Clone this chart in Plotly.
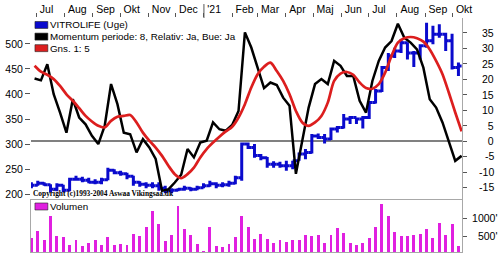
import pandas as pd
import plotly.graph_objects as go

# ---------------- data (weekly) ----------------
week_start = pd.date_range("2020-06-22", periods=68, freq="7D")

price_open = [215, 218, 222, 219, 210, 218, 208, 230, 230, 228,
              224, 224, 229, 248, 243, 241, 236, 224, 220, 218,
              217, 212, 207, 208, 210, 212, 210, 213, 217, 221,
              218, 219, 222, 233, 300, 293, 277, 273, 260, 260,
              257, 257, 267, 280, 283, 316, 313, 310, 330, 333,
              350, 353, 350, 353, 383, 406, 453, 476, 486, 502,
              482, 482, 496, 506, 519, 519, 506, 453]
price_high = [224, 227, 224, 220, 222, 219, 233, 237, 235, 233,
              230, 233, 253, 250, 247, 243, 237, 226, 224, 224,
              224, 217, 212, 212, 217, 214, 217, 222, 227, 224,
              224, 227, 237, 303, 303, 300, 280, 274, 266, 265,
              267, 267, 283, 290, 320, 321, 320, 333, 336, 360,
              356, 353, 356, 386, 410, 456, 482, 492, 509, 503,
              486, 499, 542, 536, 539, 522, 520, 463]
price_low = [212, 217, 217, 204, 206, 204, 206, 227, 224, 222,
             220, 220, 228, 240, 237, 230, 217, 215, 212, 212,
             207, 202, 202, 206, 207, 206, 208, 212, 215, 212,
             214, 215, 220, 227, 290, 273, 268, 253, 253, 253,
             247, 250, 267, 270, 281, 310, 301, 308, 323, 331,
             340, 340, 331, 350, 381, 404, 446, 472, 482, 469,
             454, 469, 492, 499, 512, 486, 449, 436]
price_close = [218, 222, 219, 210, 218, 208, 230, 230, 228, 224,
               224, 229, 248, 243, 241, 236, 224, 220, 218, 217,
               212, 207, 208, 210, 212, 210, 213, 217, 221, 218,
               219, 222, 233, 300, 293, 277, 273, 260, 260, 257,
               257, 267, 280, 283, 316, 313, 310, 330, 333, 350,
               353, 350, 353, 383, 406, 453, 476, 486, 502, 482,
               482, 496, 506, 519, 519, 506, 453, 456]

momentum = [20.3, 19.7, 24.9, 15.2, 9.3, 2.8, 13.6, 7.7, 5.5, 1.8,
            -0.9, 5.0, 18.5, 12.0, 2.8, 2.3, -3.6, 0.7, -2.0, -5.7,
            -16.0, -15.5, -13.3, -10.8, -2.5, -5.2, -0.4, 0.2, 6.1, 3.9,
            3.4, 5.3, 9.8, 35.2, 30.3, 23.8, 17.2, 19.0, 18.2, 14.1,
            11.5, -10.5, 0.2, 10.9, 18.5, 20.1, 18.5, 26.0, 24.4, 21.1,
            21.1, 13.1, 9.3, 19.5, 26.0, 30.3, 32.4, 38.0, 33.5, 31.9,
            29.7, 23.8, 13.6, 10.9, 6.1, 0.2, -6.3, -4.7]

momentum_avg = [24.4, 22.5, 21.5, 20.1, 17.9, 15.2, 13.1, 10.7, 8.2, 6.4,
                5.0, 4.5, 6.6, 7.9, 8.2, 8.5, 6.1, 2.8, 0.2, -2.0,
                -4.7, -7.9, -10.6, -11.9, -10.6, -8.5, -5.2, -2.5, -0.4, 1.5,
                3.2, 4.7, 7.7, 12.0, 17.4, 21.7, 24.1, 25.4, 22.7, 19.5,
                15.2, 9.8, 6.1, 5.0, 6.1, 8.2, 12.5, 19.5, 21.9, 22.4,
                21.5, 19.0, 17.2, 17.0, 18.5, 22.2, 27.6, 31.9, 33.3, 33.7,
                33.3, 32.2, 29.7, 26.0, 21.7, 15.7, 9.3, 3.2]

volume = [478, 652, 404, 1073, 523, 495, 267, 423, 248, 341,
          423, 267, 495, 267, 294, 286, 569, 523, 753, 1210,
          844, 377, 542, 1348, 698, 542, 313, 120, 770, 248,
          212, 313, 495, 1073, 753, 432, 569, 450, 341, 404,
          358, 423, 404, 542, 523, 542, 330, 542, 726, 605,
          341, 267, 330, 478, 770, 1386, 1073, 633, 523, 523,
          542, 569, 698, 478, 880, 542, 844, 248]

price_ticks = [200, 250, 300, 350, 400, 450, 500]
momentum_ticks = [-15, -10, -5, 0, 5, 10, 15, 20, 25, 30, 35]
volume_ticks = [500, 1000]
month_names_en = ["Jan", "Feb", "Mar", "Apr", "May", "Jun",
                  "Jul", "Aug", "Sep", "Oct", "Nov", "Dec"]
month_names_da = ["'21", "Feb", "Mar", "Apr", "Maj", "Jun",
                  "Jul", "Aug", "Sep", "Okt", "Nov", "Dec"]

legend_labels = ["VITROLIFE (Uge)", "Momentum periode: 8, Relativ: Ja, Bue: Ja", "Gns. 1: 5"]
volume_label = "Volumen"
copyright_text = "Copyright (c)1993-2004 Aswaa Vikingsaa.dk"

# ---------------- styling ----------------
BLUE = "#0A0ACD"
BLACK = "#000000"
RED = "#DC1E1E"
MAGENTA = "#E020E0"
FRAME = "#A8A8A8"
FONT = "Liberation Sans, Arial, sans-serif"

W, H = 500, 255
ML, MR, MT, MB = 31, 34, 17, 3
PW, PH = W - ML - MR, H - MT - MB


def fx(px):
    return (px - ML) / PW


def fy(py):
    return (H - MB - py) / PH


# right-aligned look for right-side tick labels: pad with no-break spaces
CHAR_W = {"-": 333, "'": 191, "\u00a0": 278}


def text_w(s):
    return sum(CHAR_W.get(c, 556) for c in s)


def right_aligned(labels):
    widest = max(text_w(s) for s in labels)
    return ["\u00a0" * round((widest - text_w(s)) / 278) + s for s in labels]


momentum_text = right_aligned([str(v) for v in momentum_ticks])
volume_text = right_aligned([f"{v}'" for v in volume_ticks])
month_alias = {en: "\u00a0" + da for en, da in zip(month_names_en, month_names_da)}

main_dom = [fy(199.5), 1]
vol_dom = [0, fy(199.5)]
WEEK_MS = 7 * 24 * 3600 * 1000
period = dict(xperiod=WEEK_MS, xperiod0="2020-06-22")

fig = go.Figure()

fig.add_trace(go.Ohlc(
    x=week_start, open=price_open, high=price_high, low=price_low, close=price_close,
    xperiodalignment="middle", **period,
    increasing=dict(line=dict(color=BLUE, width=3)),
    decreasing=dict(line=dict(color=BLUE, width=3)),
    tickwidth=0.5, xaxis="x", yaxis="y", showlegend=False, hoverinfo="skip",
    name=legend_labels[0]))

fig.add_trace(go.Scatter(
    x=week_start, y=momentum, xperiodalignment="end", **period,
    mode="lines", line=dict(color=BLACK, width=2.5), xaxis="x", yaxis="y2",
    showlegend=False, name=legend_labels[1]))

fig.add_trace(go.Scatter(
    x=week_start, y=momentum_avg, xperiodalignment="end", **period,
    mode="lines", line=dict(color=RED, width=2.7, shape="spline", smoothing=0.8),
    xaxis="x", yaxis="y2", showlegend=False, name=legend_labels[2]))

fig.add_trace(go.Bar(
    x=week_start, y=volume, xperiodalignment="middle", **period,
    width=3.2 * 24 * 3600 * 1000, marker=dict(color=MAGENTA, line=dict(width=0)),
    xaxis="x2", yaxis="y3", showlegend=False, name=volume_label))

tickfont = dict(family=FONT, size=10.5, color="#000")

fig.update_layout(
    width=W, height=H, margin=dict(l=ML, r=MR, t=MT, b=MB),
    paper_bgcolor="white", plot_bgcolor="white", showlegend=False,
    bargap=0,
    xaxis=dict(anchor="y", side="top", type="date",
               range=["2020-06-25 02:00", "2021-10-11 10:00"],
               rangeslider=dict(visible=False),
               dtick="M1", tick0="2020-07-01", tickformat="%b", labelalias=month_alias,
               ticks="outside", ticklen=4, tickcolor="#555", ticklabelposition="outside right",
               tickangle=0, showgrid=False, zeroline=False, showline=False, tickfont=tickfont),
    xaxis2=dict(anchor="y3", matches="x", type="date", rangeslider=dict(visible=False),
                showticklabels=False, ticks="", showgrid=False, zeroline=False,
                showline=True, mirror=True, linecolor=FRAME, linewidth=1),
    yaxis=dict(domain=main_dom, anchor="x", side="left", range=[189, 551.6],
               tickmode="array", tickvals=price_ticks, ticks="outside", ticklen=5,
               tickcolor="#555", showgrid=False, zeroline=False, showline=False,
               tickfont=tickfont),
    yaxis2=dict(domain=main_dom, anchor="x", overlaying="y", side="right",
                range=[-18.87, 39.84], tickmode="array", tickvals=momentum_ticks,
                ticktext=momentum_text, ticks="outside", ticklen=4, tickcolor="#555",
                ticklabelstandoff=10, tickfont=tickfont,
                showgrid=False, showline=True, linecolor=FRAME, linewidth=1,
                zeroline=True, zerolinecolor="#808080", zerolinewidth=1.5),
    yaxis3=dict(domain=vol_dom, anchor="x2", side="right", range=[74, 1503],
                tickmode="array", tickvals=volume_ticks, ticktext=volume_text,
                ticks="outside", ticklen=4, tickcolor="#555", ticklabelstandoff=3,
                tickfont=tickfont, showgrid=False, zeroline=False,
                showline=True, mirror=True, linecolor=FRAME, linewidth=1),
)

# longer tick marking the new year
fig.add_shape(type="line", xref="x", yref="paper", x0="2021-01-01", x1="2021-01-01",
              y0=1, y1=fy(3), line=dict(color="#555", width=1))

# legend built from the label lists
legend_rows = [(legend_labels[0], BLUE, 24.0), (legend_labels[1], BLACK, 35.7),
               (legend_labels[2], RED, 47.3), (volume_label, MAGENTA, 206.3)]
for label, color, cy in legend_rows:
    fig.add_shape(type="rect", xref="paper", yref="paper",
                  x0=fx(35), x1=fx(48), y0=fy(cy + 3.5), y1=fy(cy - 3.5),
                  fillcolor=color, line=dict(color="#222", width=0.6))
    fig.add_annotation(text=label, xref="paper", yref="paper", x=fx(48.5), y=fy(cy),
                       xanchor="left", yanchor="middle", showarrow=False,
                       font=dict(family=FONT, size=9.8, color="#000"))

fig.add_annotation(text="<b>" + copyright_text + "</b>", xref="paper", yref="paper",
                   x=fx(31), y=fy(193.5), xanchor="left", yanchor="middle", showarrow=False,
                   font=dict(family="Liberation Serif, Times New Roman, serif", size=7.4,
                             color="#000"))

fig.write_html("out.html")
